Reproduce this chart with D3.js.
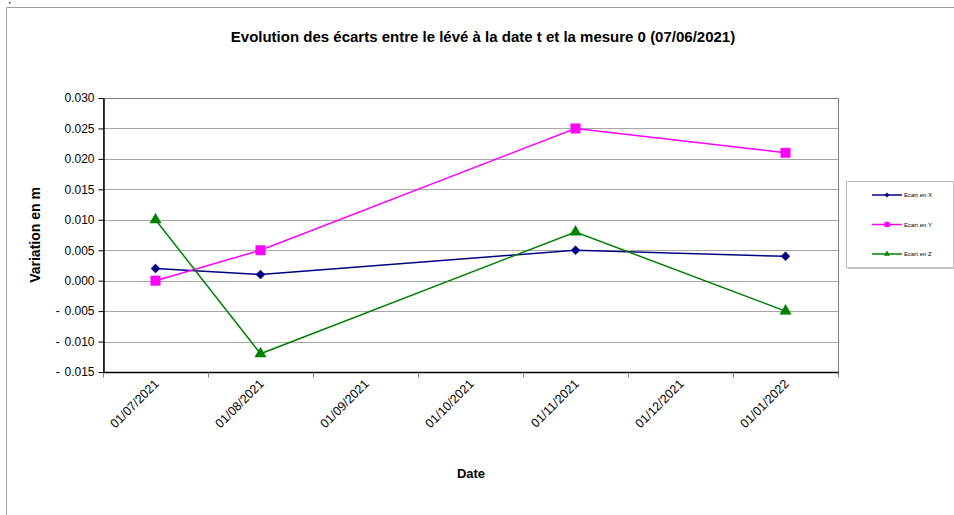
<!DOCTYPE html>
<html>
<head>
<meta charset="utf-8">
<script src="https://cdn.jsdelivr.net/npm/d3@7"></script>
<style>
  body { margin: 0; background: #fff; }
  svg { display: block; font-family: "Liberation Sans", Arial, sans-serif; }
</style>
</head>
<body>
<svg id="chart" width="954" height="515"></svg>
<script>
// Monthly category axis (Excel-style date axis, base unit = month)
const months = ["01/07/2021", "01/08/2021", "01/09/2021", "01/10/2021", "01/11/2021", "01/12/2021", "01/01/2022"];
const surveyDates = ["01/07/2021", "01/08/2021", "01/11/2021", "01/01/2022"];
const ecartX = [0.002, 0.001, 0.005, 0.004];
const ecartY = [0.000, 0.005, 0.025, 0.021];
const ecartZ = [0.010, -0.012, 0.008, -0.005];
const yTicks = [-0.015, -0.010, -0.005, 0.000, 0.005, 0.010, 0.015, 0.020, 0.025, 0.030];

// diamond = square turned 45 degrees
const diamond = {
  draw(ctx, size) {
    const r = Math.sqrt(size) / 2;
    ctx.moveTo(0, -r); ctx.lineTo(r, 0); ctx.lineTo(0, r); ctx.lineTo(-r, 0); ctx.closePath();
  }
};

const series = [
  { name: "Ecart en X", values: ecartX, color: "#000080", symbol: diamond, size: 80 },
  { name: "Ecart en Y", values: ecartY, color: "#FF00FF", symbol: d3.symbolSquare, size: 90 },
  { name: "Ecart en Z", values: ecartZ, color: "#008000", symbol: d3.symbolTriangle, size: 55 }
];

const svg = d3.select("#chart");
const plot = { left: 103, top: 98, right: 838, bottom: 372 };

// outer chart frame (left and top edges)
svg.append("path")
  .attr("d", "M6.5,515 V7.5 H954")
  .attr("fill", "none").attr("stroke", "#a0a0a0").attr("stroke-width", 1);
svg.append("rect").attr("x", 9).attr("y", 2).attr("width", 1.5).attr("height", 1.5).attr("fill", "#333");

const x = d3.scaleBand().domain(months).range([plot.left, plot.right]);
const xc = d => x(d) + x.bandwidth() / 2;
const y = d3.scaleLinear().domain([-0.015, 0.030]).range([plot.bottom, plot.top]);

// horizontal gridlines
svg.append("g").selectAll("line").data(yTicks.filter(t => t > -0.015)).join("line")
  .attr("x1", plot.left).attr("x2", plot.right)
  .attr("y1", d => Math.round(y(d)) + 0.5).attr("y2", d => Math.round(y(d)) + 0.5)
  .attr("stroke", "#a6a6a6").attr("stroke-width", 1);

// plot area border
svg.append("rect")
  .attr("x", plot.left + 0.5).attr("y", plot.top + 0.5)
  .attr("width", plot.right - plot.left).attr("height", plot.bottom - plot.top)
  .attr("fill", "none").attr("stroke", "#808080").attr("stroke-width", 1);

// y axis
const fmtY = d => (d < 0 ? "-\u2009\u2009" : "") + Math.abs(d).toFixed(3);
const yAxis = svg.append("g")
  .attr("transform", `translate(${plot.left + 0.5},0)`)
  .call(d3.axisLeft(y).tickValues(yTicks).tickFormat(fmtY).tickSize(5).tickSizeOuter(0));
yAxis.select(".domain").attr("stroke", "#000").attr("stroke-width", 1.5);
yAxis.selectAll(".tick line").attr("stroke", "#000");
yAxis.selectAll(".tick text").attr("font-size", 12).attr("fill", "#000").attr("x", -9)
  .attr("font-family", "Liberation Sans, Arial, sans-serif");

// x axis: ticks on category boundaries, labels on category centres
const xAxisG = svg.append("g").attr("transform", `translate(0,${plot.bottom + 0.5})`);
xAxisG.append("line").attr("x1", plot.left).attr("x2", plot.right + 1)
  .attr("stroke", "#000").attr("stroke-width", 1.5);
const boundaries = months.map(m => x(m)).concat([plot.right]);
xAxisG.selectAll("line.tick").data(boundaries).join("line").attr("class", "tick")
  .attr("x1", d => Math.round(d) + 0.5).attr("x2", d => Math.round(d) + 0.5)
  .attr("y1", 0).attr("y2", 5).attr("stroke", "#808080");
xAxisG.selectAll("text").data(months).join("text")
  .attr("transform", d => `translate(${xc(d) + 1},${9}) rotate(-45)`)
  .attr("text-anchor", "end").attr("dy", "0.35em")
  .attr("font-size", 12.5).attr("fill", "#000")
  .text(d => d);

// series lines and markers
const line = d3.line().x((v, i) => xc(surveyDates[i])).y(v => y(v));
series.forEach(s => {
  svg.append("path").datum(s.values)
    .attr("d", line).attr("fill", "none")
    .attr("stroke", s.color).attr("stroke-width", 1.5);
  svg.append("g").selectAll("path").data(s.values).join("path")
    .attr("d", d3.symbol().type(s.symbol).size(s.size))
    .attr("transform", (v, i) => `translate(${xc(surveyDates[i])},${y(v)})`)
    .attr("fill", s.color).attr("stroke", s.color).attr("stroke-width", 0.5);
});

// titles
svg.append("text").attr("x", 483).attr("y", 42).attr("text-anchor", "middle")
  .attr("font-size", 15).attr("font-weight", "bold")
  .text("Evolution des écarts entre le lévé à la date t et la mesure 0 (07/06/2021)");
svg.append("text").attr("transform", "translate(40,235) rotate(-90)").attr("text-anchor", "middle")
  .attr("font-size", 14).attr("font-weight", "bold").text("Variation en m");
svg.append("text").attr("x", 471).attr("y", 478).attr("text-anchor", "middle")
  .attr("font-size", 13).attr("font-weight", "bold").text("Date");

// legend
const lg = svg.append("g").attr("transform", "translate(846,181)");
lg.append("rect").attr("x", 1.5).attr("y", 1.5).attr("width", 107).attr("height", 86)
  .attr("fill", "#808080");
lg.append("rect").attr("x", 0.5).attr("y", 0.5).attr("width", 107).attr("height", 86)
  .attr("fill", "#fff").attr("stroke", "#c0c0c0");
series.forEach((s, i) => {
  const yy = 14 + i * 29.5;
  lg.append("line").attr("x1", 26).attr("x2", 56).attr("y1", yy).attr("y2", yy)
    .attr("stroke", s.color).attr("stroke-width", 1.5);
  lg.append("path").attr("d", d3.symbol().type(s.symbol).size(s.size * 0.3))
    .attr("transform", `translate(41,${yy})`).attr("fill", s.color);
  lg.append("text").attr("x", 58).attr("y", yy).attr("dy", "0.35em")
    .attr("font-size", 6).attr("fill", "#000").text(s.name);
});
</script>
</body>
</html>
